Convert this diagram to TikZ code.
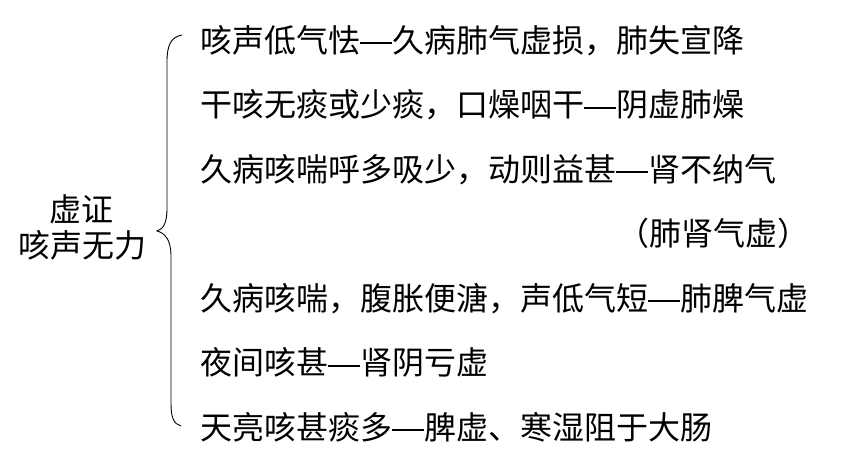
\documentclass[tikz,border=0pt]{standalone}
\usepackage{fontspec}
\newfontfamily\cjk{Noto Sans CJK SC}
\newcommand\dsh{\rule[8pt]{32pt}{1.8pt}}
\begin{document}
\begin{tikzpicture}[x=1pt,y=-1pt,
  txt/.style={anchor=base west,inner sep=0pt,font=\cjk\fontsize{32}{36}\selectfont},
  lbl/.style={anchor=base,inner sep=0pt,font=\cjk\fontsize{32}{36}\selectfont}]
\useasboundingbox[fill=white] (0,0) rectangle (846,464);
\node[lbl] (h1) at (81,221) {虚证};
\node[lbl] (h2) at (82,257) {咳声无力};
\node[txt] (l1) at (200,52) {咳声低气怯\dsh 久病肺气虚损，肺失宣降};
\node[txt] (l2) at (200,116.5) {干咳无痰或少痰，口燥咽干\dsh 阴虚肺燥};
\node[txt] (l3) at (200,181) {久病咳喘呼多吸少，动则益甚\dsh 肾不纳气};
\node[txt] (l4) at (617,245.5) {（肺肾气虚）};
\node[txt] (l5) at (200,310) {久病咳喘，腹胀便溏，声低气短\dsh 肺脾气虚};
\node[txt] (l6) at (200,374.5) {夜间咳甚\dsh 肾阴亏虚};
\node[txt] (l7) at (200,439) {天亮咳甚痰多\dsh 脾虚、寒湿阻于大肠};
\coordinate (btop) at (182,35);
\coordinate (btip) at (157,231);
\coordinate (bbot) at (181,426);
\draw[line width=0.9pt] (btop) .. controls (171,37) and (167,45) .. (167,62) -- (167,208)
  .. controls (167,224) and (163,229) .. (btip)
  .. controls (165,233) and (171,240) .. (171,256) -- (171,404)
  .. controls (171,418) and (174,424) .. (bbot);
\end{tikzpicture}
\end{document}
